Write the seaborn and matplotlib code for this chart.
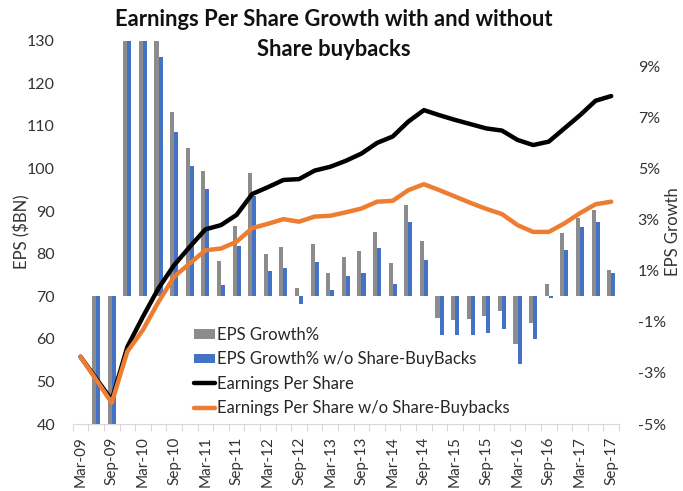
import numpy as np
import pandas as pd
import matplotlib
matplotlib.use("Agg")
import matplotlib.pyplot as plt
import seaborn as sns
from matplotlib.patches import Patch
from matplotlib.lines import Line2D

quarters = ["Mar-09", "Jun-09", "Sep-09", "Dec-09", "Mar-10", "Jun-10", "Sep-10", "Dec-10",
            "Mar-11", "Jun-11", "Sep-11", "Dec-11", "Mar-12", "Jun-12", "Sep-12", "Dec-12",
            "Mar-13", "Jun-13", "Sep-13", "Dec-13", "Mar-14", "Jun-14", "Sep-14", "Dec-14",
            "Mar-15", "Jun-15", "Sep-15", "Dec-15", "Mar-16", "Jun-16", "Sep-16", "Dec-16",
            "Mar-17", "Jun-17", "Sep-17"]

eps = [55.8, 50.7, 45.6, 58.1, 65.2, 71.9, 77.3, 81.6, 85.7, 86.7, 89.1, 94.0,
       95.6, 97.3, 97.5, 99.5, 100.4, 101.8, 103.5, 106.0, 107.5, 111.0, 113.7, 112.5,
       111.4, 110.4, 109.4, 108.9, 106.7, 105.5, 106.3, 109.4, 112.5, 115.9, 117.0]

eps_wo = [55.8, 50.4, 45.0, 57.0, 62.1, 68.7, 74.6, 77.7, 80.8, 81.2, 82.8, 86.0,
          87.0, 88.1, 87.5, 88.7, 88.9, 89.7, 90.6, 92.2, 92.4, 94.9, 96.3, 94.9,
          93.4, 91.9, 90.5, 89.3, 86.7, 85.1, 85.1, 87.1, 89.5, 91.6, 92.2]

growth = [np.nan, -9.1, -10.2, 27.0, 12.2, 10.3, 7.21, 5.81, 4.89, 1.38, 2.73, 4.83,
          1.65, 1.91, 0.34, 2.05, 0.90, 1.55, 1.78, 2.53, 1.29, 3.58, 2.15, -0.87,
          -0.93, -0.90, -0.76, -0.58, -1.85, -1.03, 0.48, 2.47, 3.06, 3.36, 1.03]

growth_wo = [np.nan, -9.5, -11.0, 26.0, 11.0, 9.35, 6.42, 5.09, 4.20, 0.44, 1.95, 3.91,
             1.00, 1.10, -0.31, 1.33, 0.24, 0.79, 0.92, 1.87, 0.47, 2.90, 1.42, -1.52,
             -1.52, -1.52, -1.43, -1.30, -2.64, -1.67, -0.05, 1.79, 2.71, 2.90, 0.90]

bar_names = ["EPS Growth%", "EPS Growth% w/o Share-BuyBacks"]
line_names = ["Earnings Per Share", "Earnings Per Share w/o Share-Buybacks"]

C_GRAY = "#8C8C8C"
C_BLUE = "#4472C4"
C_BLACK = "#000000"
C_ORANGE = "#ED7D31"
C_TEXT = "#333333"

sns.set_theme(style="white")
plt.rcParams["font.family"] = ["Lato", "DejaVu Sans"]

W, H = 683, 491
fig = plt.figure(figsize=(W / 100, H / 100), dpi=100)
x0, x1 = 72.7, 619.0
y_top, y_bot = 40.7, 424.0
ax = fig.add_axes([x0 / W, 1 - y_bot / H, (x1 - x0) / W, (y_bot - y_top) / H])

bars_df = pd.DataFrame({
    "quarter": quarters * 2,
    "series": [bar_names[0]] * len(quarters) + [bar_names[1]] * len(quarters),
    "value": growth + growth_wo,
})
sns.barplot(data=bars_df, x="quarter", y="value", hue="series", order=quarters,
            hue_order=bar_names, palette=[C_GRAY, C_BLUE], width=0.52,
            errorbar=None, legend=False, ax=ax, saturation=1, linewidth=0)

ax2 = ax.twinx()
lines_df = pd.DataFrame({
    "pos": list(range(len(quarters))) * 2,
    "series": [line_names[0]] * len(quarters) + [line_names[1]] * len(quarters),
    "eps": eps + eps_wo,
})
sns.lineplot(data=lines_df, x="pos", y="eps", hue="series", hue_order=line_names,
             palette=[C_BLACK, C_ORANGE], linewidth=3.2, legend=False, ax=ax2)

# right axis (growth %) belongs to the bar axes
ax.set_ylim(-5, 10)
ax.set_yticks(np.arange(-5, 10, 2))
ax.set_yticklabels([f"{v}%" for v in range(-5, 10, 2)])
ax.yaxis.tick_right()
ax.tick_params(axis="y", length=0, pad=13.5, labelsize=11.5, colors=C_TEXT)
ax.set_ylabel("")
ax.set_xlabel("")

# left axis (EPS) belongs to the line axes
ax2.set_ylim(40, 130)
ax2.set_yticks(np.arange(40, 131, 10))
ax2.yaxis.tick_left()
ax2.tick_params(axis="y", length=0, pad=12.7, labelsize=11.5, colors=C_TEXT)
ax2.set_ylabel("")
ax2.set_xlabel("")

# x axis: labels every other quarter, minor ticks at category boundaries
ax.set_xlim(-0.5, len(quarters) - 0.5)
ax.set_xticks(range(0, len(quarters), 2))
ax.set_xticklabels(quarters[::2])
ax.set_xticks(np.arange(-0.5, len(quarters), 1), minor=True)
ax.tick_params(axis="x", which="major", length=0, pad=9, labelsize=11,
               colors=C_TEXT, labelrotation=90)
ax.tick_params(axis="x", which="minor", bottom=True, length=5, width=0.8, color="#D9D9D9")
ax2.tick_params(axis="x", which="both", bottom=False, top=False,
                labelbottom=False, labeltop=False)

for a in (ax, ax2):
    for s in ("left", "right", "top"):
        a.spines[s].set_visible(False)
    a.grid(False)
ax.spines["bottom"].set_visible(True)
ax.spines["bottom"].set_color("#D9D9D9")
ax.spines["bottom"].set_linewidth(0.8)
ax2.spines["bottom"].set_visible(False)

fig.text(22 / W, 1 - 232 / H, "EPS ($BN)", rotation=90, ha="center", va="center",
         fontsize=12, color=C_TEXT)
fig.text(673 / W, 1 - 232 / H, "EPS Growth", rotation=90, ha="center", va="center",
         fontsize=12, color=C_TEXT)

fig.text(334 / W, 1 - 9 / H, "Earnings Per Share Growth with and without\nShare buybacks",
         ha="center", va="top", fontsize=15.8, fontweight="bold", color="#111111",
         linespacing=1.55)

handles = [Patch(facecolor=C_GRAY, edgecolor="none"),
           Patch(facecolor=C_BLUE, edgecolor="none"),
           Line2D([0], [0], color=C_BLACK, lw=3.2),
           Line2D([0], [0], color=C_ORANGE, lw=3.2)]
fig.legend(handles, bar_names + line_names, loc="upper left",
           bbox_to_anchor=(194 / W, 1 - 327 / H), frameon=False, fontsize=12,
           handlelength=1.25, handleheight=0.5, handletextpad=0.12, labelspacing=0.5,
           borderpad=0, borderaxespad=0)

fig.savefig("out.png", dpi=100)
